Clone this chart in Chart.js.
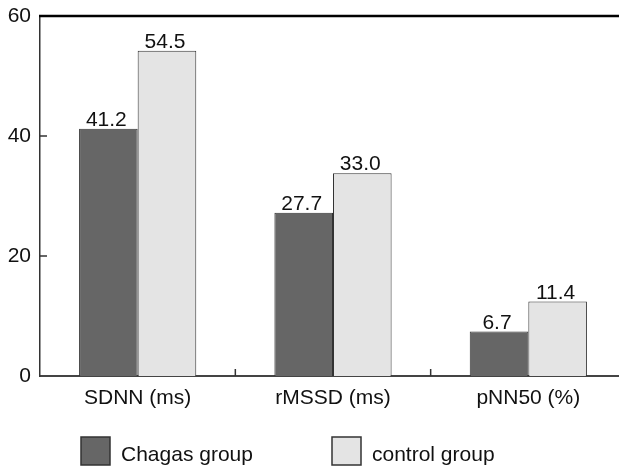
<!DOCTYPE html>
<html>
<head>
	<meta charset="utf-8">
	<title>HRV bars</title>
	<script src="https://cdn.jsdelivr.net/npm/chart.js"></script>
	<style>
		html, body { margin: 0; padding: 0; background: #fff; overflow: hidden; }
	</style>
</head>
<body>
	<canvas id="myChart" width="626" height="469"></canvas>

	<script>
		const categories = ['SDNN (ms)', 'rMSSD (ms)', 'pNN50 (%)'];
		const seriesNames = ['Chagas group', 'control group'];
		// bar heights as drawn in the picture
		const chagasValues = [41.2, 27.2, 7.4];
		const controlValues = [54.2, 33.8, 12.4];
		// numbers printed above the bars
		const chagasLabels = ['41.2', '27.7', '6.7'];
		const controlLabels = ['54.5', '33.0', '11.4'];
		const yTicks = [0, 20, 40, 60];

		const fontFam = '"Liberation Sans", Arial, sans-serif';
		const darkGray = '#666666';
		const lightGray = '#e4e4e4';

		// value labels, top frame line, inward tick marks and the legend
		const decor = {
			id: 'decor',
			afterDraw(chart) {
				const ctx = chart.ctx;
				const area = chart.chartArea;
				const x = chart.scales.x;
				const y = chart.scales.y;
				ctx.save();

				// numbers over the bars
				ctx.font = '21px ' + fontFam;
				ctx.fillStyle = '#111';
				ctx.textAlign = 'center';
				ctx.textBaseline = 'alphabetic';
				[chagasLabels, controlLabels].forEach((labels, di) => {
					chart.getDatasetMeta(di).data.forEach((bar, i) => {
						ctx.fillText(labels[i], bar.x - 2, bar.y - 3);
					});
				});

				// top frame line
				ctx.strokeStyle = '#000';
				ctx.lineWidth = 2.5;
				ctx.beginPath();
				ctx.moveTo(area.left - 1, area.top);
				ctx.lineTo(area.right, area.top);
				ctx.stroke();

				// inward ticks
				ctx.strokeStyle = '#333';
				ctx.lineWidth = 1.5;
				ctx.beginPath();
				yTicks.slice(1, -1).forEach(v => {
					const py = y.getPixelForValue(v);
					ctx.moveTo(area.left, py);
					ctx.lineTo(area.left + 7, py);
				});
				for (let i = 0; i < categories.length - 1; i++) {
					const px = (x.getPixelForValue(i) + x.getPixelForValue(i + 1)) / 2;
					ctx.moveTo(px, area.bottom);
					ctx.lineTo(px, area.bottom - 7);
				}
				ctx.stroke();

				// legend
				const legendX = [81, 332];
				const boxTop = 437;
				ctx.font = '21px ' + fontFam;
				ctx.textAlign = 'left';
				ctx.textBaseline = 'middle';
				chart.data.datasets.forEach((ds, i) => {
					ctx.fillStyle = ds.backgroundColor;
					ctx.fillRect(legendX[i], boxTop, 29, 28);
					ctx.strokeStyle = '#333';
					ctx.lineWidth = 1.5;
					ctx.strokeRect(legendX[i], boxTop, 29, 28);
					ctx.fillStyle = '#111';
					ctx.fillText(ds.label, legendX[i] + 40, boxTop + 18);
				});

				ctx.restore();
			}
		};

		var ctx = document.getElementById('myChart').getContext('2d');
		var chart = new Chart(ctx, {
			type: 'bar',
			data: {
				labels: categories,
				datasets: [
					{
						label: seriesNames[0],
						data: chagasValues,
						backgroundColor: darkGray,
						borderColor: '#333',
						borderWidth: 1
					},
					{
						label: seriesNames[1],
						data: controlValues,
						backgroundColor: lightGray,
						borderColor: '#333',
						borderWidth: 1
					}
				]
			},
			options: {
				responsive: false,
				animation: false,
				layout: { padding: { top: 16, bottom: 53, left: 0, right: 0 } },
				datasets: {
					bar: { categoryPercentage: 0.6, barPercentage: 1.0 }
				},
				plugins: {
					legend: { display: false },
					tooltip: { enabled: false }
				},
				scales: {
					x: {
						grid: { display: false, drawTicks: false },
						border: { display: true, color: '#444', width: 2 },
						ticks: {
							color: '#111',
							padding: 10,
							font: { family: fontFam, size: 21 }
						},
						afterFit: scale => { scale.height = 40; }
					},
					y: {
						min: 0,
						max: 60,
						grid: { display: false, drawTicks: false },
						border: { display: true, color: '#333', width: 1.5 },
						ticks: {
							stepSize: 20,
							color: '#111',
							padding: 9,
							font: { family: fontFam, size: 21 }
						},
						afterFit: scale => {
							scale.width = 40;
							scale.paddingTop = 0;
							scale.paddingBottom = 0;
						}
					}
				}
			},
			plugins: [decor]
		});
	</script>
</body>
</html>
